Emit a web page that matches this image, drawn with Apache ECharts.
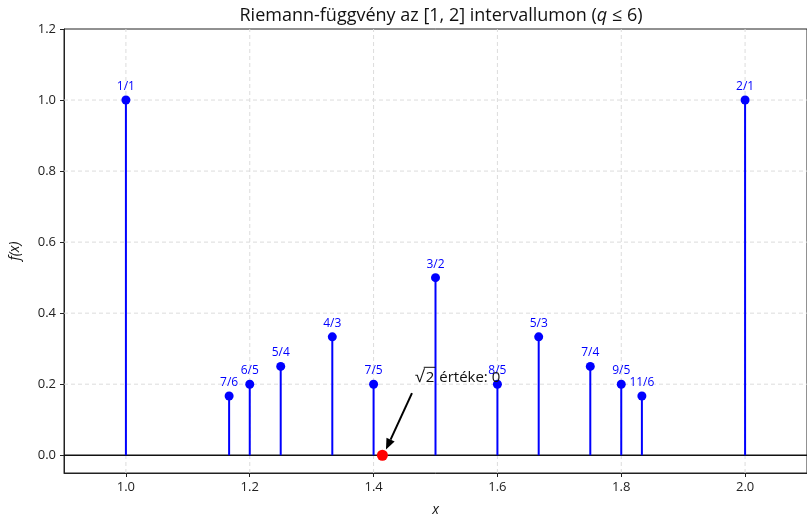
<!DOCTYPE html>
<html><head><meta charset="utf-8">
<script src="https://cdn.jsdelivr.net/npm/echarts@6/dist/echarts.min.js"></script>
<style>html,body{margin:0;padding:0;background:#fff}#c{width:807px;height:515px}</style>
</head><body><div id="c"></div>
<script>
const labels = ['1/1','7/6','6/5','5/4','4/3','7/5','3/2','8/5','5/3','7/4','9/5','11/6','2/1'];
const xs = [1.0, 1.16667, 1.2, 1.25, 1.33333, 1.4, 1.5, 1.6, 1.66667, 1.75, 1.8, 1.83333, 2.0];
const ys = [1.0, 0.16667, 0.2, 0.25, 0.33333, 0.2, 0.5, 0.2, 0.33333, 0.25, 0.2, 0.16667, 1.0];
const irrational = [[1.41421, 0]];
const annRadicand = '2';
const annRest = ' értéke: 0';
const annTextPos = [1.47, 0.218];
const arrowFrom = [1.462, 0.175];
const arrowTo = [1.42, 0.016];
const xTicks = [1.0, 1.2, 1.4, 1.6, 1.8, 2.0];
const yTicks = [0.0, 0.2, 0.4, 0.6, 0.8, 1.0, 1.2];

const FONT = 'Open Sans';
const X_MIN = 0.9, X_MAX = 2.1, Y_MIN = -0.05, Y_MAX = 1.2;
const ctx = document.createElement('canvas').getContext('2d');
function tw(t, size) { ctx.font = size + 'px "' + FONT + '"'; return ctx.measureText(t).width; }

const chart = echarts.init(document.getElementById('c'));
const pts = xs.map((x, i) => ({ value: [x, ys[i]], name: labels[i] }));
const gridLine = { stroke: '#dcdcdc', lineWidth: 1, lineDash: [4, 3] };
chart.setOption({
  animation: false,
  textStyle: { fontFamily: FONT },
  title: { text: 'Riemann-függvény az [1, 2] intervallumon ({i|q} ≤ 6)', left: 436, textAlign: 'center', top: 2,
    textStyle: { fontSize: 18, fontWeight: 'normal', color: '#111', fontFamily: FONT,
      rich: { i: { fontStyle: 'italic', fontSize: 18, color: '#111', fontFamily: FONT } } } },
  grid: { left: 64, right: 0, top: 29, bottom: 42, outerBoundsMode: 'none', containLabel: false,
    show: true, borderColor: '#222', borderWidth: 1 },
  xAxis: { type: 'value', min: X_MIN, max: X_MAX,
    name: 'x', nameLocation: 'middle', nameGap: 30,
    nameTextStyle: { fontStyle: 'italic', fontSize: 14, color: '#111' },
    axisLine: { onZero: false, lineStyle: { color: '#222' } },
    axisTick: { show: true, length: 4, customValues: xTicks, lineStyle: { color: '#222' } },
    axisLabel: { fontSize: 13, color: '#222', margin: 8, customValues: xTicks, formatter: v => v.toFixed(1) },
    splitLine: { show: false } },
  yAxis: { type: 'value', min: Y_MIN, max: Y_MAX,
    name: 'f(x)', nameLocation: 'middle', nameGap: 42, nameRotate: 90,
    nameTextStyle: { fontStyle: 'italic', fontSize: 14, color: '#111' },
    axisLine: { show: true, onZero: false, lineStyle: { color: '#222' } },
    axisTick: { show: true, length: 4, customValues: yTicks, lineStyle: { color: '#222' } },
    axisLabel: { fontSize: 13, color: '#222', margin: 8, customValues: yTicks, formatter: v => v.toFixed(1) },
    splitLine: { show: false } },
  series: [
    { type: 'custom', silent: true, z: 1, data: yTicks.filter(v => v > 0 && v < Y_MAX), encode: { x: -1, y: 0 },
      renderItem: (params, api) => {
        const a = api.coord([X_MIN, api.value(0)]);
        const b = api.coord([X_MAX, api.value(0)]);
        return { type: 'line', shape: { x1: a[0], y1: a[1], x2: b[0], y2: b[1] }, style: gridLine };
      } },
    { type: 'custom', silent: true, z: 1, data: xTicks, encode: { x: 0, y: -1 },
      renderItem: (params, api) => {
        const a = api.coord([api.value(0), Y_MIN]);
        const b = api.coord([api.value(0), Y_MAX]);
        return { type: 'line', shape: { x1: a[0], y1: a[1], x2: b[0], y2: b[1] }, style: gridLine };
      } },
    { type: 'line', data: [[X_MIN, 0], [X_MAX, 0]], symbol: 'none', z: 4, silent: true,
      lineStyle: { color: '#111', width: 1.5 } },
    { type: 'custom', z: 5, data: pts.map(p => p.value),
      renderItem: (params, api) => {
        const a = api.coord([api.value(0), 0]);
        const b = api.coord([api.value(0), api.value(1)]);
        return { type: 'line', shape: { x1: a[0], y1: a[1], x2: b[0], y2: b[1] },
          style: { stroke: '#0000ff', lineWidth: 2 } };
      } },
    { type: 'scatter', z: 6, data: pts, symbolSize: 9,
      itemStyle: { color: '#0000ff', opacity: 1 },
      label: { show: true, position: 'top', distance: 3, formatter: p => p.name,
        color: '#0000ff', fontSize: 12 } },
    { type: 'scatter', z: 7, data: irrational, symbolSize: 11,
      itemStyle: { color: '#ff0000', opacity: 1 } },
    { type: 'custom', z: 8, data: [[...arrowFrom, ...arrowTo]],
      renderItem: (params, api) => {
        const a = api.coord([api.value(0), api.value(1)]);
        const b = api.coord([api.value(2), api.value(3)]);
        const ang = Math.atan2(b[1] - a[1], b[0] - a[0]);
        const L = 11, W = 4.5;
        const bx = b[0] - L * Math.cos(ang), by = b[1] - L * Math.sin(ang);
        const px = -Math.sin(ang), py = Math.cos(ang);
        return { type: 'group', children: [
          { type: 'line', shape: { x1: a[0], y1: a[1], x2: bx, y2: by }, style: { stroke: '#000', lineWidth: 2 } },
          { type: 'polygon', shape: { points: [[b[0], b[1]], [bx + px * W, by + py * W], [bx - px * W, by - py * W]] },
            style: { fill: '#000' } }
        ] };
      } },
    { type: 'custom', z: 9, data: [annTextPos],
      renderItem: (params, api) => {
        const a = api.coord([api.value(0), api.value(1)]);
        const fs = 15;
        const x0 = a[0] - 2, y0 = a[1];
        const wR = tw('√', fs + 2), w2 = tw(annRadicand, fs);
        return { type: 'group', children: [
          { type: 'text', x: x0, y: y0 - 1, style: { text: '√', fill: '#111', fontSize: fs + 2, fontFamily: FONT, verticalAlign: 'middle', align: 'left' } },
          { type: 'line', shape: { x1: x0 + wR - 0.5, y1: y0 - 10.5, x2: x0 + wR + w2 + 2.5, y2: y0 - 10.5 }, style: { stroke: '#111', lineWidth: 1 } },
          { type: 'text', x: x0 + wR + 1.5, y: y0, style: { text: annRadicand, fill: '#111', fontSize: fs, fontFamily: FONT, verticalAlign: 'middle', align: 'left' } },
          { type: 'text', x: x0 + wR + w2 + 2.5, y: y0, style: { text: annRest, fill: '#111', fontSize: fs, fontFamily: FONT, verticalAlign: 'middle', align: 'left' } }
        ] };
      } }
  ]
});
</script></body></html>
